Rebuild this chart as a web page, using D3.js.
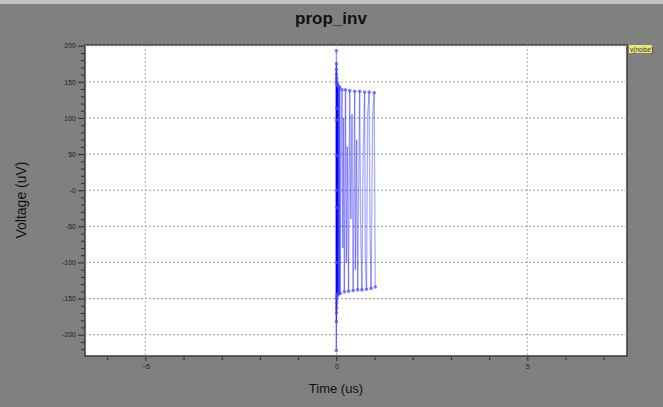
<!DOCTYPE html>
<html>
<head>
<meta charset="utf-8">
<script src="https://cdn.jsdelivr.net/npm/d3@7"></script>
<style>
  body { margin: 0; background: #ffffff; }
  svg { display: block; font-family: "Liberation Sans", Arial, sans-serif; }
</style>
</head>
<body>
<div id="chartContainer"></div>
<script>
// chart data (time in us, voltage in uV)
var timeUs = [
    0.000, 0.001, 0.002, 0.003, 0.004, 0.005, 0.006, 0.007, 0.008, 0.009,
    0.010, 0.011, 0.012, 0.013, 0.014, 0.015, 0.016, 0.018, 0.020, 0.022,
    0.025, 0.030, 0.035, 0.040, 0.050, 0.060, 0.070, 0.080, 0.090, 0.100,
    0.125, 0.150, 0.170, 0.190, 0.210, 0.240, 0.265, 0.290, 0.320, 0.350,
    0.380, 0.410, 0.440, 0.480, 0.500, 0.530, 0.560, 0.610, 0.640, 0.670,
    0.700, 0.740, 0.760, 0.790, 0.820, 0.860, 0.880, 0.910, 0.950, 0.990,
    1.020
];
var voltageUv = [
    193, -222, 175, -182, 167, -170, 160, -163, 155, -156,
    150, -150, 113, -24, 97, -100, 48, 0, 148, -146,
    146, -145, 145, -144, 144, -143, 143, -143, 142, -143,
    60, 139, -80, 100, -141, 139, -100, 60, -140, 138,
    -40, 105, -139, 137, -110, 70, -138, 137, -60, -138,
    40, 136, -100, -137, 105, 136, -50, -136, 100, 135,
    -134
];
var xTickLabels = [-5, 0, 5];
var yTickLabels = [-200, -150, -100, -50, 0, 50, 100, 150, 200];
var seriesName = "v(noise)";

const width = 663;
const height = 407;
const margin = {left: 85, right: 36, top: 45, bottom: 51};

var data = timeUs.map(function(t, i) { return [t, voltageUv[i]]; });

const svg = d3.select("#chartContainer").append("svg")
    .attr("width", width)
    .attr("height", height);

// grey background panel
svg.append("rect")
    .attr("x", 0).attr("y", 0)
    .attr("width", width).attr("height", height)
    .style("fill", "#808080");
svg.append("rect")
    .attr("x", 0).attr("y", 0)
    .attr("width", width).attr("height", 4)
    .style("fill", "#c4c4c4");

const x = d3.scaleLinear()
    .domain([-6.58, 7.61])
    .range([margin.left, width - margin.right]);

const y = d3.scaleLinear()
    .domain([-229.5, 201])
    .range([height - margin.bottom, margin.top]);

// plot area
svg.append("rect")
    .attr("x", margin.left)
    .attr("y", margin.top)
    .attr("width", width - margin.left - margin.right)
    .attr("height", height - margin.top - margin.bottom)
    .style("fill", "white")
    .style("stroke", "#3a3a3a")
    .style("stroke-width", "1.5px");

// dashed grid
svg.append("g").selectAll("line.gy")
    .data(yTickLabels)
    .enter().append("line")
    .attr("x1", margin.left).attr("x2", width - margin.right)
    .attr("y1", function(d) { return y(d); })
    .attr("y2", function(d) { return y(d); })
    .style("stroke", "#9a9a9a")
    .style("stroke-dasharray", "2,2");

svg.append("g").selectAll("line.gx")
    .data(xTickLabels)
    .enter().append("line")
    .attr("y1", margin.top).attr("y2", height - margin.bottom)
    .attr("x1", function(d) { return x(d); })
    .attr("x2", function(d) { return x(d); })
    .style("stroke", "#b0b0b0")
    .style("stroke-dasharray", "2,2");

// y axis: minor ticks every 10, labels every 50
var yMinor = d3.range(-220, 201, 10).filter(function(v) { return v % 50 !== 0; });
var yAxisMinor = svg.append("g")
    .attr("transform", `translate(${margin.left - 1},0)`)
    .call(d3.axisLeft(y).tickValues(yMinor).tickSize(3).tickFormat(""));
var yAxis = svg.append("g")
    .attr("transform", `translate(${margin.left - 1},0)`)
    .call(d3.axisLeft(y).tickValues(yTickLabels).tickSize(6)
        .tickFormat(function(d) { return d === 0 ? "-0" : d; }));

// x axis: minor ticks every 1, labels every 5
var xMinor = d3.range(-6, 8, 1).filter(function(v) { return v % 5 !== 0; });
var xAxisMinor = svg.append("g")
    .attr("transform", `translate(0,${height - margin.bottom + 1})`)
    .call(d3.axisBottom(x).tickValues(xMinor).tickSize(3).tickFormat(""));
var xAxis = svg.append("g")
    .attr("transform", `translate(0,${height - margin.bottom + 1})`)
    .call(d3.axisBottom(x).tickValues(xTickLabels).tickSize(4));

[xAxis, yAxis, xAxisMinor, yAxisMinor].forEach(function(a) {
    a.select(".domain").remove();
    a.selectAll("line").style("stroke", "#2a2a2a");
    a.selectAll("text")
        .style("font-size", "7px")
        .style("fill", "#1e1e1e");
});
yAxis.selectAll("text").attr("x", -8);
xAxis.selectAll("text").attr("y", 7);

// series line
var line = d3.line()
    .x(function(d) { return x(d[0]); })
    .y(function(d) { return y(d[1]); });

var plot = svg.append("g");

// draw each segment separately so overlaps darken
plot.selectAll("path.seg")
    .data(d3.pairs(data))
    .enter().append("path")
    .attr("d", function(d) { return line(d); })
    .style("fill", "none")
    .style("stroke", "#0000ff")
    .style("stroke-opacity", 0.33)
    .style("stroke-width", "1.3px");

// markers: only the visible ones (spike at t=0 and the envelope)
plot.selectAll("circle")
    .data(data.filter(function(d) { return d[0] < 0.03 || Math.abs(d[1]) > 130; }))
    .enter().append("circle")
    .attr("cx", function(d) { return x(d[0]); })
    .attr("cy", function(d) { return y(d[1]); })
    .attr("r", 1.8)
    .style("fill", "#4a4aff")
    .style("fill-opacity", 0.7);

// title and axis labels
svg.append("text")
    .attr("x", 331).attr("y", 24)
    .attr("text-anchor", "middle")
    .style("font-size", "17px")
    .style("font-weight", "bold")
    .style("fill", "#111")
    .text("prop_inv");

svg.append("text")
    .attr("transform", "translate(26,200) rotate(-90)")
    .attr("text-anchor", "middle")
    .style("font-size", "14px")
    .style("fill", "#111")
    .text("Voltage (uV)");

svg.append("text")
    .attr("x", 336).attr("y", 393)
    .attr("text-anchor", "middle")
    .style("font-size", "13px")
    .style("fill", "#111")
    .text("Time (us)");

// legend tag
var legend = svg.append("g").attr("transform", "translate(629,45)");
legend.append("rect")
    .attr("width", 23).attr("height", 8)
    .style("fill", "#e6e67a");
legend.append("text")
    .attr("x", 1).attr("y", 6.5)
    .style("font-size", "6.5px")
    .style("fill", "#3a3a20")
    .text(seriesName);
</script>
</body>
</html>
